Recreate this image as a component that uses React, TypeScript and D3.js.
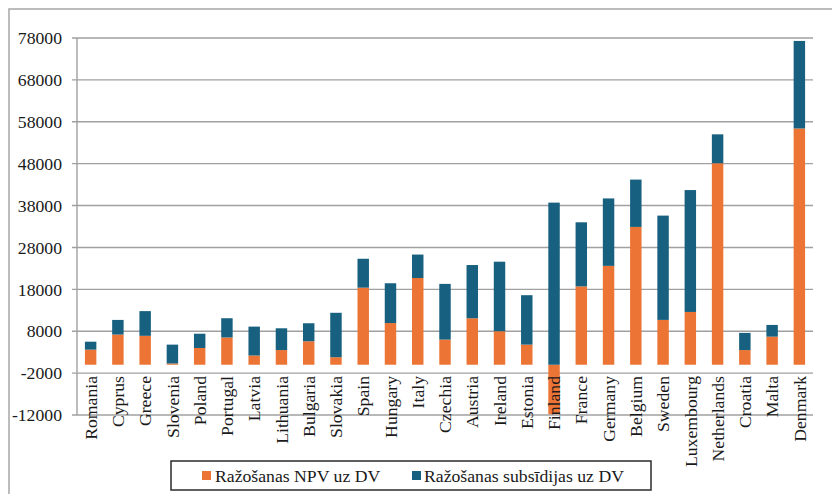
import React from "react";
import * as d3 from "d3";

const countries = ["Romania","Cyprus","Greece","Slovenia","Poland","Portugal","Latvia","Lithuania","Bulgaria","Slovakia","Spain","Hungary","Italy","Czechia","Austria","Ireland","Estonia","Finland","France","Germany","Belgium","Sweden","Luxembourg","Netherlands","Croatia","Malta","Denmark"];
const npv = [3600,7200,6900,300,4000,6500,2200,3500,5600,1800,18400,9950,20700,6000,11100,8000,4800,-11800,18700,23600,32900,10700,12600,48100,3500,6700,56400];
const subsidies = [1900,3500,5900,4500,3400,4600,6900,5200,4300,10600,6900,9500,5600,13300,12700,16600,11800,38700,15300,16100,11300,24900,29100,6900,4100,2800,20900];
const yTicks = [-12000,-2000,8000,18000,28000,38000,48000,58000,68000,78000];
const seriesNames = ["Ražošanas NPV uz DV","Ražošanas subsīdijas uz DV"];
const colors = ["#EC7434","#17607F"];

const W = 832, H = 494;
const FONT = "'Liberation Serif', 'Times New Roman', serif";
const FS = 17.7;

export default function App() {
  const x = d3.scaleBand<string>().domain(countries).range([77, 813]).paddingInner(0.58).paddingOuter(0.29);
  const y = d3.scaleLinear().domain([-12000, 78000]).range([415, 38]);

  const rows = countries.map((c, i) => ({ c, npv: npv[i], sub: subsidies[i] }));
  const stacked = d3.stack<any>().keys(["npv", "sub"]).offset(d3.stackOffsetDiverging)(rows);

  const labelTop = 376;

  return (
    <div style={{ position: "fixed", left: 0, top: 0, width: W, height: H, background: "#fff" }}>
      <svg width={W} height={H} style={{ display: "block" }} fontFamily={FONT}>
        <rect x={0} y={0} width={W} height={H} fill="#fff" />
        <path d={`M9,${H + 2} V9 H${W + 2}`} fill="none" stroke="#a6a6a6" strokeWidth={1.5} />
        {yTicks.map((t) => (
          <line key={"g" + t} x1={72} x2={813} y1={y(t)} y2={y(t)} stroke="#a0a0a0" strokeWidth={1.4} />
        ))}
        <line x1={77} x2={77} y1={y(78000)} y2={y(-12000)} stroke="#a0a0a0" strokeWidth={1.4} />
        {yTicks.map((t) => (
          <text key={"t" + t} x={62} y={y(t)} dy="0.35em" textAnchor="end" fontSize={FS} fill="#1a1a1a">
            {t}
          </text>
        ))}
        {stacked.map((s, si) => (
          <g key={si} fill={colors[si]}>
            {s.map((d: any, i: number) => {
              const y0 = y(d[0]), y1 = y(d[1]);
              return (
                <rect key={i} x={x(countries[i])} width={x.bandwidth()} y={Math.min(y0, y1)} height={Math.abs(y0 - y1)} />
              );
            })}
          </g>
        ))}
        {countries.map((c) => {
          const cx = (x(c) as number) + x.bandwidth() / 2;
          return (
            <text key={c} transform={`translate(${cx},${labelTop}) rotate(-90)`} textAnchor="end" dy="0.35em" fontSize={FS} fill="#1a1a1a">
              {c}
            </text>
          );
        })}
        <rect x={171} y={461} width={480} height={29} fill="#fff" stroke="#2b2b2b" strokeWidth={1.5} />
        <rect x={202} y={471} width={9} height={9} fill={colors[0]} />
        <text x={215} y={476} dy="0.35em" fontSize={FS} fill="#1a1a1a">{seriesNames[0]}</text>
        <rect x={412} y={471} width={9} height={9} fill={colors[1]} />
        <text x={424} y={476} dy="0.35em" fontSize={FS} fill="#1a1a1a">{seriesNames[1]}</text>
      </svg>
    </div>
  );
}
